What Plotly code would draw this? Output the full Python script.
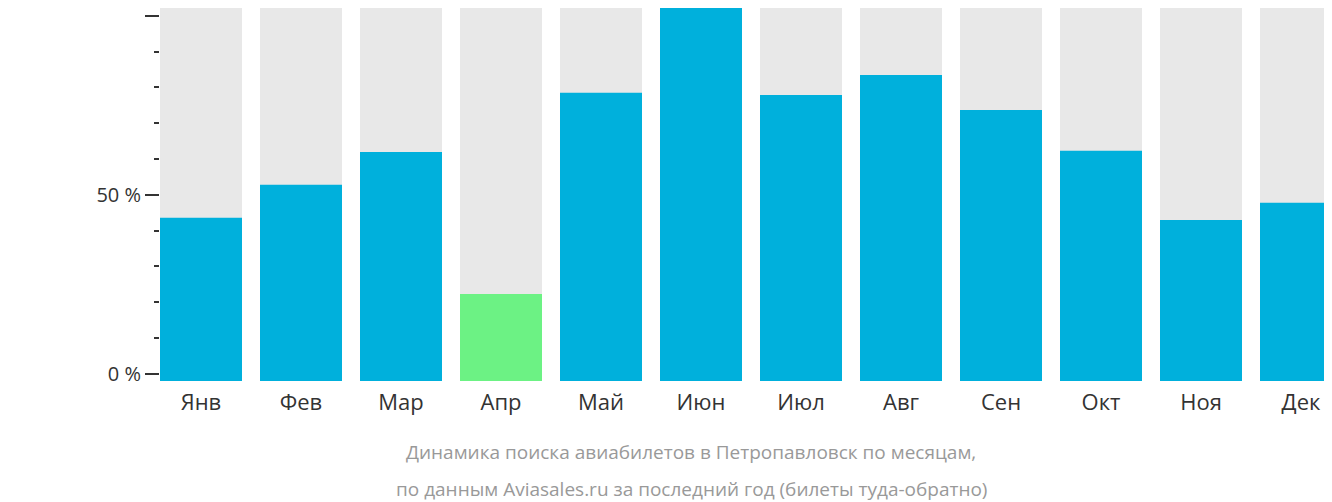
import plotly.graph_objects as go

months = ['Янв', 'Фев', 'Мар', 'Апр', 'Май', 'Июн', 'Июл', 'Авг', 'Сен', 'Окт', 'Ноя', 'Дек']
values = [43.6, 52.8, 62.0, 22.3, 78.5, 102.2, 77.9, 83.5, 73.7, 62.3, 43.0, 47.8]
colors = ['#00b0dc'] * 12
colors[3] = '#6cf284'

base = -2
top = 102.2

fig = go.Figure()
fig.add_trace(go.Bar(x=months, y=[top - base] * 12, base=base,
                     marker=dict(color='#e8e8e8', line_width=0), hoverinfo='skip'))
fig.add_trace(go.Bar(x=months, y=[v - base for v in values], base=base,
                     marker=dict(color=colors, line_width=0)))

fig.update_layout(
    width=1332, height=502,
    margin=dict(l=152, r=0, t=0, b=129, autoexpand=False),
    barmode='overlay', bargap=0.18, showlegend=False,
    plot_bgcolor='white', paper_bgcolor='white',
    font=dict(family='Open Sans', color='#333'),
    xaxis=dict(range=[-0.41, 11.39], showgrid=False, zeroline=False, automargin=False,
               tickfont=dict(size=22), ticks='', ticklabelstandoff=6),
    yaxis=dict(range=[base, top], tickvals=[0, 50, 100], ticktext=['0 %', '50 %', '100 %'],
               showgrid=False, zeroline=False, ticks='outside', ticklen=14, automargin=False,
               tickcolor='#333', tickwidth=2, tickfont=dict(size=20),
               minor=dict(tickvals=[10, 20, 30, 40, 60, 70, 80, 90],
                          ticks='outside', ticklen=5, tickcolor='#333', tickwidth=2)),
    annotations=[
        dict(text='Динамика поиска авиабилетов в Петропавловск по месяцам,',
             xref='paper', yref='paper', x=0.45, y=-0.19, yanchor='middle',
             showarrow=False, font=dict(size=19, color='#999')),
        dict(text='по данным Aviasales.ru за последний год (билеты туда-обратно)',
             xref='paper', yref='paper', x=0.45, y=-0.29, yanchor='middle',
             showarrow=False, font=dict(size=19, color='#999')),
    ]
)

fig.write_html('out.html')
